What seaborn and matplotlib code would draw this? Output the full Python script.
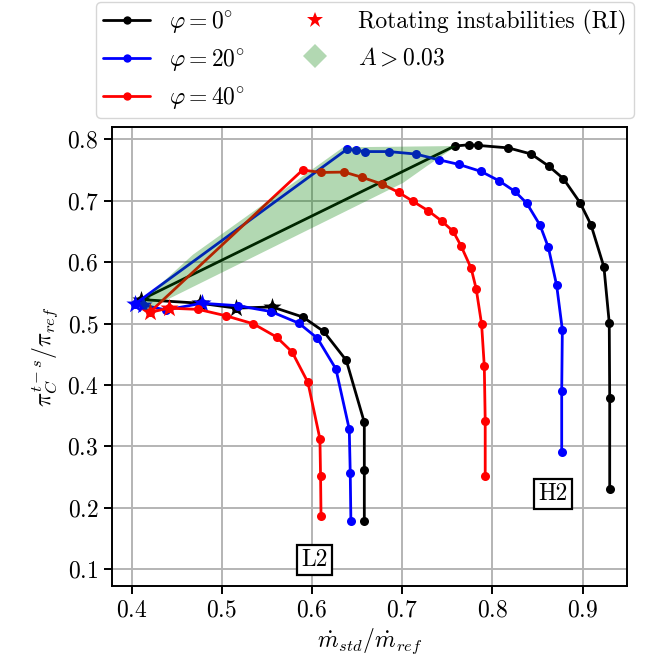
import numpy as np
import pandas as pd
import matplotlib
matplotlib.use("Agg")
import matplotlib.pyplot as plt
import seaborn as sns
from matplotlib.lines import Line2D

# ---------------- data ----------------
phi_labels = [r"$\varphi = 0\!^\circ$", r"$\varphi = 20\!^\circ$", r"$\varphi = 40\!^\circ$"]
colors = ["black", "blue", "red"]

# phi = 0 deg : H2 branch (choke -> stall), then L2 branch
x0 = [0.930, 0.930, 0.9295, 0.9236, 0.9092, 0.897, 0.8786, 0.8627, 0.843, 0.8177, 0.7845, 0.7735, 0.758,
      0.411, 0.476, 0.516, 0.556, 0.590, 0.613, 0.638, 0.658, 0.658, 0.658]
y0 = [0.230, 0.379, 0.501, 0.592, 0.661, 0.697, 0.736, 0.756, 0.776, 0.786, 0.790, 0.791, 0.789,
      0.539, 0.533, 0.525, 0.527, 0.5105, 0.487, 0.440, 0.339, 0.262, 0.179]
ri0 = [0, 0, 0, 0, 0, 0, 0, 0, 0, 0, 0, 0, 0,
       1, 1, 1, 1, 0, 0, 0, 0, 0, 0]

# phi = 20 deg
x20 = [0.8768, 0.8768, 0.8775, 0.8712, 0.862, 0.8528, 0.838, 0.825, 0.8074, 0.7875, 0.763, 0.7407, 0.715,
       0.685, 0.659, 0.6487, 0.639,
       0.404, 0.413, 0.438, 0.478, 0.518, 0.5545, 0.5855, 0.606, 0.6265, 0.6413, 0.6424, 0.6431]
y20 = [0.290, 0.390, 0.490, 0.562, 0.624, 0.660, 0.696, 0.715, 0.7324, 0.7476, 0.759, 0.7666, 0.776,
       0.780, 0.780, 0.782, 0.784,
       0.532, 0.530, 0.522, 0.533, 0.529, 0.5195, 0.5005, 0.476, 0.426, 0.328, 0.256, 0.179]
ri20 = [0] * 17 + [1, 1, 0, 1, 0, 0, 0, 0, 0, 0, 0, 0]

# phi = 40 deg
x40 = [0.792, 0.792, 0.791, 0.788, 0.782, 0.7764, 0.765, 0.7565, 0.7437, 0.7288, 0.7122, 0.6963, 0.6778,
       0.6557, 0.6357, 0.610, 0.5896,
       0.420, 0.441, 0.474, 0.5045, 0.535, 0.5607, 0.578, 0.5955, 0.6088, 0.6095, 0.610]
y40 = [0.251, 0.3415, 0.430, 0.499, 0.5565, 0.590, 0.627, 0.650, 0.667, 0.6836, 0.6987, 0.7134, 0.727,
       0.738, 0.7466, 0.746, 0.750,
       0.518, 0.525, 0.523, 0.5126, 0.4995, 0.478, 0.4535, 0.404, 0.312, 0.251, 0.186]
ri40 = [0] * 17 + [1, 1, 0, 0, 0, 0, 0, 0, 0, 0, 0]

# region A > 0.03
area_x = [0.409, 0.468, 0.6346, 0.760, 0.727, 0.701, 0.415]
area_y = [0.533, 0.612, 0.787, 0.789, 0.756, 0.729, 0.521]

x_ticks = [0.4, 0.5, 0.6, 0.7, 0.8, 0.9]
y_ticks = [0.1, 0.2, 0.3, 0.4, 0.5, 0.6, 0.7, 0.8]

FS = 17

# ---------------- style ----------------
sns.set_theme(style="whitegrid")
plt.rcParams.update({
    "font.family": "serif",
    "font.serif": ["cmr10", "DejaVu Serif"],
    "mathtext.fontset": "cm",
    "axes.formatter.use_mathtext": True,
    "axes.unicode_minus": False,
    "axes.edgecolor": "black",
    "axes.linewidth": 1.4,
    "grid.color": "#b4b4b4",
    "grid.linewidth": 1.4,
    "xtick.bottom": True,
    "ytick.left": True,
    "xtick.direction": "out",
    "ytick.direction": "out",
    "xtick.major.size": 6,
    "ytick.major.size": 6,
    "xtick.major.width": 1.4,
    "ytick.major.width": 1.4,
    "xtick.color": "black",
    "ytick.color": "black",
    "xtick.labelsize": FS,
    "ytick.labelsize": FS,
    "axes.labelcolor": "black",
    "text.color": "black",
})

frames = []
for lab, xs, ys, rs in zip(phi_labels, [x0, x20, x40], [y0, y20, y40], [ri0, ri20, ri40]):
    frames.append(pd.DataFrame({"phi": lab, "x": xs, "y": ys, "ri": np.array(rs, dtype=bool),
                                "order": np.arange(len(xs))}))
df = pd.concat(frames, ignore_index=True)

fig = plt.figure(figsize=(6.65, 6.68), dpi=100)
ax = fig.add_axes([0.168, 0.1232, 0.7753, 0.6862])

for i, (lab, col) in enumerate(zip(phi_labels, colors)):
    sub = df[df["phi"] == lab]
    sns.lineplot(data=sub, x="x", y="y", sort=False, estimator=None, color=col,
                 marker="o", markersize=6.5, markeredgewidth=0, linewidth=2.0,
                 ax=ax, legend=False, zorder=2 + 2 * i)
    sns.scatterplot(data=sub[sub["ri"]], x="x", y="y", color=col, marker="*", s=190,
                    linewidth=0, ax=ax, legend=False, zorder=3 + 2 * i)

ax.fill(area_x, area_y, color="green", alpha=0.3, lw=0, zorder=10)

ax.text(0.8674, 0.2223, "H2", fontsize=FS, ha="center", va="center", zorder=12,
        bbox=dict(boxstyle="square,pad=0.18", fc="white", ec="black", lw=1.6))
ax.text(0.6032, 0.1148, "L2", fontsize=FS, ha="center", va="center", zorder=12,
        bbox=dict(boxstyle="square,pad=0.18", fc="white", ec="black", lw=1.6))

ax.set_xlim(0.378, 0.9495)
ax.set_ylim(0.073, 0.8195)
ax.set_xticks(x_ticks)
ax.set_yticks(y_ticks)
ax.set_xlabel(r"$\dot{m}_{std}/\dot{m}_{ref}$", fontsize=FS)
ax.set_ylabel(r"$\pi_C^{t-s}/\pi_{ref}$", fontsize=FS)
for s in ax.spines.values():
    s.set_color("black")
    s.set_linewidth(1.4)

handles = [Line2D([], [], color=c, marker="o", markersize=6, markeredgewidth=0, linewidth=2.0)
           for c in colors]
handles.append(Line2D([], [], color="red", marker="*", markersize=12, linestyle="None", markeredgewidth=0))
handles.append(Line2D([], [], color="green", alpha=0.3, marker="D", markersize=12, linestyle="None",
                      markeredgewidth=0))
labels = phi_labels + ["Rotating instabilities (RI)", r"$A > 0.03$"]
ax.legend(handles, labels, loc="lower center", bbox_to_anchor=(0.491, 1.02), ncol=2, fontsize=FS,
          frameon=True, framealpha=0.8, edgecolor="0.8", fancybox=True, borderaxespad=0.0,
          borderpad=0.3)

fig.savefig("out.png", dpi=100)
